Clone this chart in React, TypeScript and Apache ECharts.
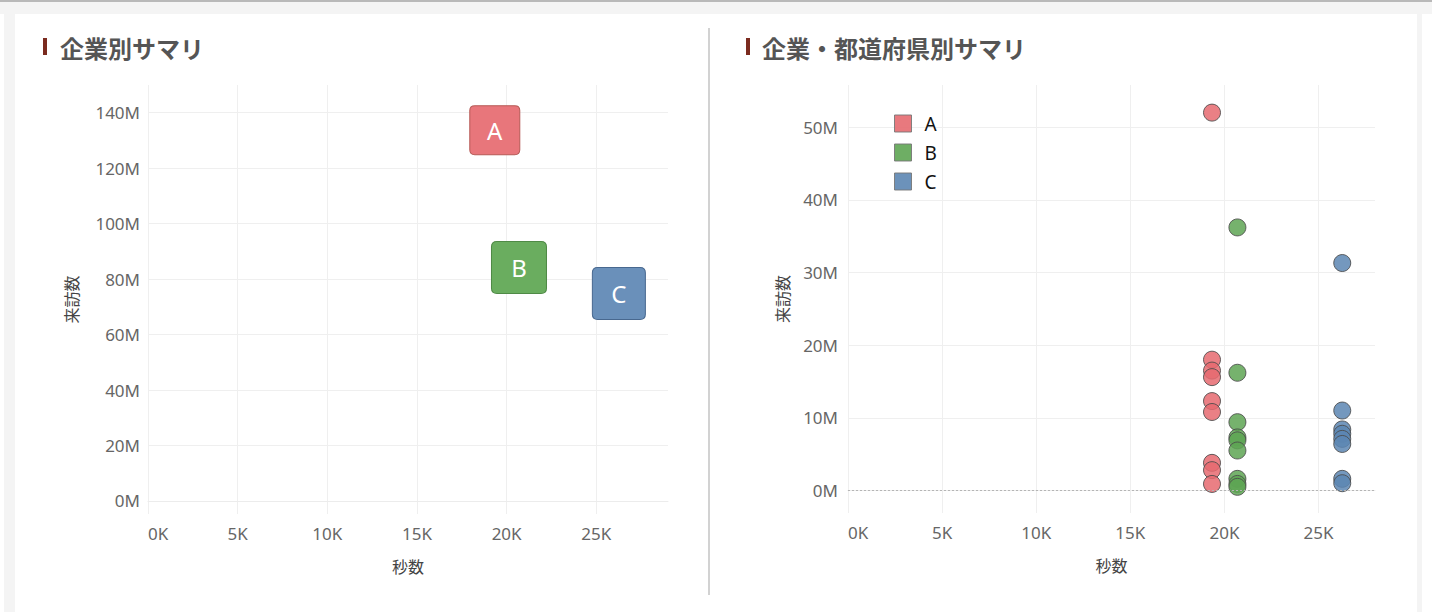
import React, { useEffect, useRef } from "react";
import * as echarts from "echarts";

// ---- data ----
const companies = ["A", "B", "C"];
const companySeconds = [19340, 20690, 26260];
const summaryVisits = [133.7e6, 84.2e6, 74.8e6];

const prefVisitsA = [52.0e6, 18.0e6, 16.5e6, 15.6e6, 12.3e6, 10.8e6, 3.8e6, 2.8e6, 0.9e6];
const prefVisitsB = [36.2e6, 16.2e6, 9.4e6, 7.3e6, 6.9e6, 5.5e6, 1.6e6, 0.9e6, 0.5e6];
const prefVisitsC = [31.3e6, 11.0e6, 8.4e6, 7.8e6, 7.1e6, 6.4e6, 1.6e6, 1.0e6];
const prefVisits = [prefVisitsA, prefVisitsB, prefVisitsC];

const xTicks = [0, 5000, 10000, 15000, 20000, 25000];
const yTicksLeft = [0, 20e6, 40e6, 60e6, 80e6, 100e6, 120e6, 140e6];
const yTicksRight = [0, 10e6, 20e6, 30e6, 40e6, 50e6];

const titleLeft = "企業別サマリ";
const titleRight = "企業・都道府県別サマリ";
const xName = "秒数";
const yName = "来訪数";

// ---- styles ----
const boxFill = ["#e8767b", "#6aad5f", "#6a90ba"];
const boxBorder = ["#b65a56", "#4f8a46", "#48688f"];
const boxSize = [
  [50, 49],
  [55, 52],
  [53, 52],
];
const dotFill = ["#e66a70", "#5ea553", "#5c86b3"];

const BOX_PATH = "path://M5,0H45Q50,0 50,5V45Q50,50 45,50H5Q0,50 0,45V5Q0,0 5,0Z";

const labelFont = "'Noto Sans', 'DejaVu Sans', sans-serif";
const cjkFont = "'Noto Sans CJK JP', 'Noto Sans', sans-serif";

function fmtM(v: number) {
  return Math.round(v / 1e6) + "M";
}
function fmtK(v: number) {
  return Math.round(v / 1000) + "K";
}

export default function App() {
  const ref = useRef<HTMLDivElement>(null);

  useEffect(() => {
    if (!ref.current) return;
    const chart = echarts.init(ref.current, undefined, { renderer: "svg" });

    const gridLine = { show: true, lineStyle: { color: "#efefef", width: 1 } };

    const xAxisCommon = (gridIndex: number, max: number) => ({
      type: "value",
      gridIndex,
      min: 0,
      max,
      name: xName,
      nameLocation: "middle",
      nameGap: 44,
      nameTextStyle: { fontFamily: cjkFont, fontSize: 16, color: "#444" },
      axisLine: { show: true, lineStyle: { color: "#ececec" } },
      axisTick: { show: false, customValues: xTicks },
      axisLabel: {
        customValues: xTicks,
        formatter: fmtK,
        fontFamily: labelFont,
        fontSize: 17,
        color: "#666",
        margin: 11,
        alignMinLabel: "left",
      },
      splitLine: gridLine,
    });

    const yAxisCommon = (gridIndex: number, min: number, max: number, ticks: number[], gap: number, margin: number) => ({
      type: "value",
      gridIndex,
      min,
      max,
      name: yName,
      nameLocation: "middle",
      nameGap: gap,
      nameTextStyle: { fontFamily: cjkFont, fontSize: 16, color: "#444" },
      axisLine: { show: false },
      axisTick: { show: false, customValues: ticks },
      axisLabel: {
        customValues: ticks,
        formatter: fmtM,
        fontFamily: labelFont,
        fontSize: 17,
        color: "#666",
        margin,
      },
      splitLine: gridLine,
    });

    const summaryData = companies.map((c, i) => ({
      name: c,
      value: [companySeconds[i], summaryVisits[i]],
      symbolSize: boxSize[i],
      itemStyle: { color: boxFill[i], borderColor: boxBorder[i], borderWidth: 1, opacity: 1 },
    }));

    const prefSeries = companies.map((c, i) => ({
      type: "scatter",
      name: c,
      xAxisIndex: 1,
      yAxisIndex: 1,
      symbol: "circle",
      symbolSize: 17,
      data: prefVisits[i].map((v) => [companySeconds[i], v]),
      itemStyle: { color: dotFill[i], opacity: 0.85, borderColor: "#4a4a4a", borderWidth: 1 },
      z: 3,
      ...(i === 0
        ? {
            markLine: {
              silent: true,
              symbol: "none",
              label: { show: false },
              lineStyle: { color: "#b5b5b5", type: [2, 2], width: 1 },
              data: [{ yAxis: 0 }],
            },
          }
        : {}),
    }));

    const option: any = {
      animation: false,
      backgroundColor: "#ffffff",
      graphic: [
        { type: "rect", shape: { x: 0, y: 0, width: 1432, height: 2 }, style: { fill: "#b9b9b9" }, z: -10 },
        { type: "rect", shape: { x: 0, y: 2, width: 1432, height: 12 }, style: { fill: "#f4f4f4" }, z: -10 },
        { type: "rect", shape: { x: 4, y: 14, width: 11, height: 598 }, style: { fill: "#f4f4f4" }, z: -10 },
        { type: "rect", shape: { x: 1417, y: 14, width: 5, height: 598 }, style: { fill: "#f4f4f4" }, z: -10 },
        { type: "rect", shape: { x: 708, y: 28, width: 2, height: 567 }, style: { fill: "#d2d2d2" }, z: -10 },
        { type: "rect", shape: { x: 43, y: 38, width: 4, height: 17 }, style: { fill: "#7b2b1f" } },
        {
          type: "text",
          x: 60,
          y: 47,
          style: {
            text: titleLeft,
            fill: "#555555",
            font: `bold 24px ${cjkFont}`,
            verticalAlign: "middle",
          },
        },
        { type: "rect", shape: { x: 746, y: 38, width: 4, height: 17 }, style: { fill: "#7b2b1f" } },
        {
          type: "text",
          x: 762,
          y: 47,
          style: {
            text: titleRight,
            fill: "#555555",
            font: `bold 24px ${cjkFont}`,
            verticalAlign: "middle",
          },
        },
      ],
      grid: [
        { left: 148, right: 1432 - 668, top: 85, bottom: 612 - 514, containLabel: false },
        { left: 848, right: 1432 - 1375, top: 85, bottom: 612 - 513, containLabel: false },
      ],
      xAxis: [xAxisCommon(0, 29000), xAxisCommon(1, 28000)],
      yAxis: [
        yAxisCommon(0, -4.7e6, 150e6, yTicksLeft, 69, 8),
        yAxisCommon(1, -3.1e6, 55.8e6, yTicksRight, 58, 10),
      ],
      legend: {
        data: companies,
        orient: "vertical",
        left: 889,
        top: 109,
        icon: "rect",
        itemWidth: 17,
        itemHeight: 17,
        itemGap: 10,
        itemStyle: { borderColor: "#777", borderWidth: 1, opacity: 0.9 },
        textStyle: { fontFamily: labelFont, fontSize: 19, color: "#111", padding: [0, 0, 0, 8] },
      },
      series: [
        ...prefSeries,
        {
          type: "scatter",
          name: "summary",
          xAxisIndex: 0,
          yAxisIndex: 0,
          symbol: BOX_PATH,
          data: summaryData,
          label: {
            show: true,
            position: "inside",
            formatter: "{b}",
            color: "#ffffff",
            fontSize: 24,
            fontFamily: labelFont,
          },
          z: 3,
        },
      ],
    };

    chart.setOption(option);
    return () => chart.dispose();
  }, []);

  return (
    <div
      ref={ref}
      style={{ position: "fixed", left: 0, top: 0, width: 1432, height: 612 }}
    />
  );
}
